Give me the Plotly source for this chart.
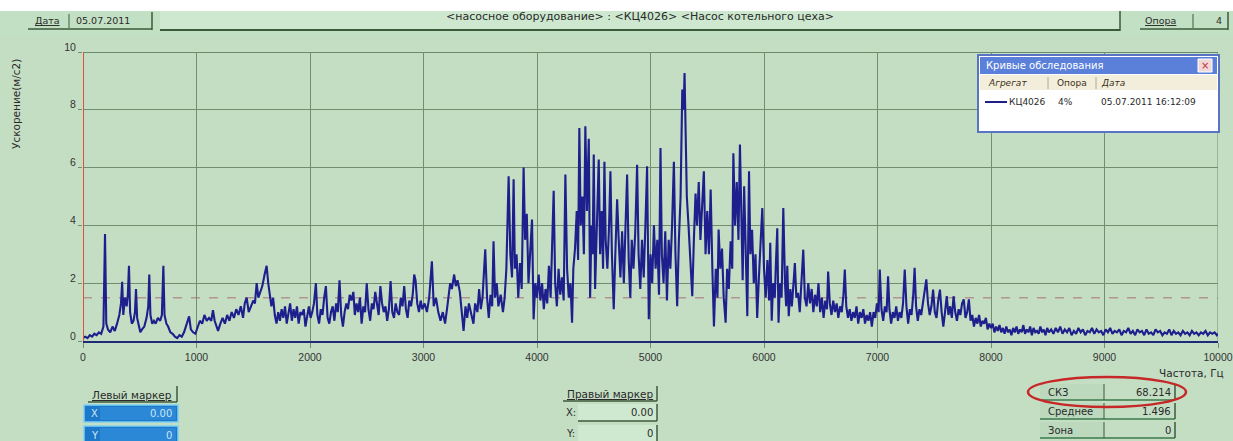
import plotly.graph_objects as go

# ---------------- data ----------------
freq_hz = [
    0, 20, 40, 60, 80, 100, 120, 140, 160, 180,
    194, 205, 220, 240, 260, 280, 300, 320, 335, 345,
    355, 370, 385, 395, 405, 415, 430, 445, 458, 467,
    477, 490, 505, 520, 540, 560, 575, 584, 594, 610,
    625, 640, 660, 680, 695, 708, 718, 735, 750, 770,
    790, 810, 830, 850, 870, 890, 915, 935, 950, 970,
    990, 1010, 1030, 1050, 1070, 1090, 1110, 1130, 1145, 1160,
    1175, 1190, 1210, 1230, 1250, 1270, 1290, 1310, 1330, 1350,
    1370, 1390, 1410, 1425, 1442, 1460, 1480, 1500, 1515, 1530,
    1545, 1560, 1580, 1600, 1618, 1632, 1645, 1660, 1675, 1690,
    1705, 1720, 1735, 1750, 1765, 1780, 1795, 1810, 1825, 1840,
    1855, 1870, 1885, 1900, 1915, 1930, 1945, 1960, 1975, 1990,
    2005, 2020, 2035, 2052, 2065, 2080, 2095, 2110, 2125, 2140,
    2155, 2170, 2185, 2200, 2215, 2230, 2245, 2260, 2275, 2290,
    2305, 2320, 2335, 2350, 2365, 2382, 2395, 2410, 2425, 2440,
    2455, 2470, 2485, 2500, 2515, 2530, 2545, 2560, 2575, 2590,
    2605, 2620, 2635, 2650, 2665, 2680, 2695, 2710, 2725, 2740,
    2755, 2770, 2785, 2800, 2815, 2830, 2845, 2860, 2875, 2890,
    2905, 2918, 2930, 2945, 2960, 2975, 2990, 3010, 3030, 3050,
    3074, 3090, 3110, 3130, 3150, 3170, 3190, 3210, 3235, 3250,
    3270, 3285, 3300, 3320, 3335, 3353, 3370, 3385, 3400, 3420,
    3440, 3455, 3475, 3490, 3505, 3520, 3544, 3560, 3575, 3590,
    3605, 3617, 3630, 3645, 3660, 3680, 3700, 3715, 3730, 3750,
    3765, 3780, 3794, 3805, 3820, 3835, 3850, 3865, 3882, 3895,
    3910, 3925, 3940, 3956, 3970, 3985, 4000, 4015, 4030, 4045,
    4060, 4075, 4090, 4105, 4120, 4135, 4147, 4160, 4175, 4190,
    4205, 4220, 4235, 4250, 4265, 4280, 4295, 4309, 4320, 4335,
    4350, 4362, 4373, 4385, 4400, 4413, 4426, 4440, 4456, 4468,
    4480, 4490, 4500, 4512, 4525, 4544, 4556, 4570, 4582, 4594,
    4605, 4620, 4635, 4647, 4660, 4676, 4690, 4706, 4720, 4735,
    4750, 4765, 4780, 4794, 4808, 4822, 4835, 4850, 4866, 4882,
    4895, 4910, 4925, 4940, 4955, 4970, 4985, 5000, 5015, 5030,
    5045, 5060, 5075, 5088, 5100, 5115, 5130, 5145, 5160, 5175,
    5190, 5206, 5220, 5235, 5250, 5265, 5280, 5292, 5300, 5310,
    5320, 5335, 5350, 5368, 5382, 5397, 5410, 5425, 5440, 5455,
    5470, 5485, 5500, 5515, 5530, 5545, 5559, 5575, 5590, 5600,
    5615, 5630, 5645, 5662, 5675, 5690, 5706, 5720, 5730, 5745,
    5760, 5775, 5788, 5800, 5812, 5825, 5840, 5853, 5868, 5880,
    5895, 5910, 5925, 5940, 5955, 5970, 5985, 6000, 6015, 6030,
    6045, 6055, 6068, 6080, 6095, 6105, 6117, 6128, 6140, 6155,
    6170, 6185, 6195, 6205, 6218, 6232, 6245, 6260, 6272, 6285,
    6300, 6315, 6330, 6346, 6360, 6375, 6390, 6405, 6420, 6435,
    6450, 6465, 6480, 6495, 6510, 6525, 6540, 6555, 6565, 6580,
    6595, 6610, 6625, 6640, 6655, 6670, 6685, 6700, 6712, 6725,
    6740, 6755, 6770, 6785, 6800, 6815, 6830, 6845, 6860, 6875,
    6890, 6905, 6920, 6935, 6950, 6965, 6980, 6995, 7010, 7020,
    7035, 7050, 7065, 7080, 7093, 7105, 7120, 7135, 7150, 7165,
    7180, 7195, 7210, 7225, 7240, 7255, 7270, 7285, 7300, 7315,
    7327, 7340, 7355, 7370, 7385, 7400, 7415, 7430, 7445, 7460,
    7475, 7490, 7505, 7520, 7535, 7550, 7565, 7580, 7595, 7610,
    7625, 7640, 7655, 7670, 7685, 7700, 7715, 7730, 7745, 7760,
    7775, 7790, 7805, 7820, 7835, 7850, 7865, 7880, 7895, 7910,
    7925, 7940, 7955, 7970, 7985, 8000, 8015, 8030, 8045, 8060,
    8075, 8090, 8105, 8120, 8135, 8150, 8165, 8180, 8195, 8210,
    8225, 8240, 8255, 8270, 8285, 8300, 8315, 8330, 8345, 8360,
    8375, 8390, 8405, 8420, 8435, 8450, 8465, 8480, 8495, 8510,
    8530, 8550, 8570, 8590, 8610, 8630, 8650, 8670, 8690, 8710,
    8730, 8750, 8770, 8790, 8810, 8830, 8850, 8870, 8890, 8910,
    8930, 8950, 8970, 8990, 9010, 9030, 9050, 9070, 9090, 9110,
    9130, 9150, 9170, 9190, 9210, 9230, 9250, 9270, 9290, 9310,
    9330, 9350, 9370, 9390, 9410, 9430, 9450, 9470, 9490, 9510,
    9530, 9550, 9570, 9590, 9610, 9630, 9650, 9670, 9690, 9710,
    9730, 9750, 9770, 9790, 9810, 9830, 9850, 9870, 9890, 9910,
    9930, 9950, 9970, 9990, 10000,
]

accel = [
    0.1, 0.15, 0.1, 0.2, 0.15, 0.25, 0.2, 0.3, 0.25, 0.5,
    3.7, 0.6, 0.4, 0.3, 0.5, 0.35, 0.6, 0.9, 1.3, 2.05,
    0.9, 1.5, 1.2, 1.6, 2.6, 1.0, 0.6, 0.7, 1.0, 1.8,
    0.8, 0.5, 0.3, 0.4, 0.5, 0.8, 1.2, 2.3, 0.9, 0.6,
    0.7, 0.6, 0.8, 0.7, 0.9, 2.6, 0.9, 0.6, 0.5, 0.3,
    0.25, 0.15, 0.1, 0.2, 0.15, 0.3, 0.6, 0.85, 0.4, 0.3,
    0.25, 0.5, 0.7, 0.6, 0.9, 0.7, 0.8, 0.7, 1.07, 0.7,
    0.5, 0.35, 0.6, 0.8, 0.6, 0.9, 0.7, 1.0, 0.8, 1.1,
    0.9, 1.2, 0.8, 1.3, 1.5, 1.0, 1.2, 1.4, 1.3, 2.0,
    1.5, 1.7, 1.9, 2.3, 2.6, 2.0, 1.6, 1.2, 1.5, 0.9,
    0.6, 1.0, 0.7, 1.1, 0.8, 1.2, 0.6, 1.0, 1.3, 0.7,
    1.1, 0.8, 1.2, 0.6, 1.0, 0.9, 1.1, 0.5, 0.9, 1.2,
    0.8, 1.0, 1.3, 2.0, 0.9, 0.6, 1.1, 0.9, 1.5, 1.9,
    0.8, 0.6, 1.0, 1.2, 0.7, 1.3, 1.0, 2.1, 0.9, 0.5,
    1.0, 1.3, 1.1, 1.6, 1.4, 1.7, 0.9, 1.3, 1.0, 1.5,
    0.6, 1.2, 1.0, 2.0, 1.1, 0.7, 1.3, 1.1, 1.7, 1.2,
    0.9, 1.9, 1.3, 1.0, 1.2, 0.7, 1.1, 2.07, 1.0, 0.8,
    1.3, 1.0, 0.9, 1.5, 1.2, 1.9, 1.1, 0.8, 1.4, 1.2,
    1.6, 2.3, 2.1, 1.3, 1.0, 1.4, 1.1, 1.3, 1.0, 1.5,
    2.76, 1.2, 1.5, 1.0, 0.7, 1.0, 0.6, 1.2, 2.0, 1.8,
    2.3, 1.9, 2.1, 1.7, 1.0, 0.35, 1.2, 0.8, 1.3, 1.0,
    0.6, 1.3, 1.0, 1.8, 1.1, 1.5, 3.17, 1.5, 0.8, 1.6,
    1.2, 3.45, 1.5, 2.0, 1.2, 1.6, 1.0, 1.5, 2.5, 5.7,
    3.0, 2.2, 5.6, 2.5, 3.0, 1.5, 2.7, 1.8, 6.0, 3.5,
    4.4, 2.0, 3.3, 4.2, 0.75, 2.0, 1.5, 2.3, 1.4, 2.0,
    1.1, 1.8, 1.3, 2.6, 1.5, 3.5, 5.2, 2.0, 1.2, 2.5,
    1.6, 2.2, 1.4, 5.76, 2.5, 1.5, 2.0, 0.63, 2.5, 3.2,
    4.5, 2.8, 7.37, 4.0, 5.0, 3.0, 7.43, 4.5, 7.0, 1.5,
    4.0, 3.0, 6.45, 1.8, 4.0, 6.28, 3.0, 4.5, 2.5, 6.2,
    3.5, 2.5, 4.0, 5.87, 3.0, 1.1, 3.0, 4.9, 3.5, 2.2,
    3.8, 2.0, 4.0, 5.76, 2.8, 1.5, 3.5, 2.5, 3.8, 6.1,
    3.0, 1.8, 3.5, 2.2, 4.0, 6.05, 0.75, 3.0, 2.0, 4.0,
    2.5, 3.5, 1.6, 6.68, 3.0, 2.0, 3.8, 1.4, 3.5, 2.5,
    4.0, 6.2, 3.0, 1.2, 3.5, 5.0, 8.7, 8.0, 9.27, 7.1,
    5.0, 4.0, 3.0, 1.55, 3.5, 5.1, 4.0, 5.5, 3.5, 4.5,
    5.87, 3.0, 4.5, 3.0, 5.24, 2.5, 0.5, 2.5, 1.5, 3.86,
    2.5, 3.2, 1.5, 0.63, 2.5, 1.8, 3.45, 2.5, 6.5, 4.0,
    5.5, 3.5, 6.8, 4.5, 2.1, 5.35, 2.5, 0.86, 5.87, 3.0,
    3.85, 2.0, 3.0, 0.8, 2.2, 3.2, 4.6, 2.5, 1.5, 2.8,
    1.4, 3.4, 0.7, 2.0, 1.5, 2.7, 3.9, 0.63, 2.0, 1.5,
    4.6, 2.0, 1.2, 2.6, 0.86, 1.8, 1.2, 2.0, 2.7, 1.5,
    1.67, 1.0, 2.0, 3.16, 1.5, 1.2, 2.0, 1.3, 1.8, 1.0,
    1.6, 1.2, 2.0, 1.0, 1.5, 0.8, 1.4, 1.1, 2.4, 1.3,
    0.9, 1.4, 1.0, 1.3, 0.8, 1.2, 1.0, 1.6, 2.47, 1.2,
    0.8, 1.1, 0.7, 1.0, 0.8, 1.2, 0.6, 1.0, 0.8, 1.1,
    0.6, 0.9, 0.7, 1.0, 0.5, 1.0, 0.8, 1.3, 1.0, 2.47,
    1.1, 0.7, 1.2, 1.0, 2.24, 1.1, 0.6, 1.0, 0.8, 1.2,
    0.7, 1.0, 0.8, 1.3, 2.47, 1.2, 0.6, 1.1, 0.9, 1.6,
    2.53, 1.2, 0.7, 1.1, 0.9, 1.3, 1.6, 2.13, 1.3, 0.9,
    1.2, 1.78, 1.0, 0.8, 1.4, 1.78, 1.0, 0.5, 1.0, 1.55,
    0.9, 1.2, 0.8, 1.55, 1.0, 0.7, 1.1, 0.9, 1.3, 1.44,
    0.8, 1.0, 1.44, 0.7, 0.9, 0.5, 0.8, 0.6, 0.9, 0.5,
    0.7, 0.6, 0.8, 0.4, 0.6, 0.45, 0.6, 0.3, 0.5, 0.35,
    0.55, 0.3, 0.45, 0.25, 0.5, 0.3, 0.4, 0.2, 0.45, 0.3,
    0.5, 0.25, 0.4, 0.3, 0.55, 0.25, 0.4, 0.3, 0.5, 0.2,
    0.45, 0.3, 0.35, 0.25, 0.5, 0.3, 0.4, 0.2, 0.45, 0.3,
    0.4, 0.25, 0.45, 0.3, 0.5, 0.25, 0.4, 0.3, 0.45, 0.2,
    0.35, 0.25, 0.45, 0.3, 0.4, 0.2, 0.35, 0.3, 0.45, 0.25,
    0.4, 0.3, 0.35, 0.2, 0.4, 0.3, 0.45, 0.25, 0.35, 0.3,
    0.4, 0.2, 0.35, 0.3, 0.45, 0.25, 0.35, 0.2, 0.4, 0.3,
    0.35, 0.2, 0.4, 0.25, 0.3, 0.2, 0.4, 0.3, 0.35, 0.2,
    0.3, 0.25, 0.4, 0.2, 0.35, 0.25, 0.3, 0.2, 0.35, 0.25,
    0.3, 0.2, 0.35, 0.25, 0.3, 0.2, 0.3, 0.25, 0.35, 0.2,
    0.3, 0.25, 0.3, 0.2, 0.25,
]

x_tick_vals = [0, 1000, 2000, 3000, 4000, 5000, 6000, 7000, 8000, 9000, 10000]
y_tick_vals = [0, 2, 4, 6, 8, 10]
mean_level = 1.496
left_marker_hz = 0

date_text = "05.07.2011"
title_text = "&lt;насосное оборудование&gt; : &lt;КЦ4026&gt; &lt;Насос котельного цеха&gt;"
support_text = "4"
y_title = "Ускорение(м/с2)"
x_title = "Частота, Гц"
legend_title = "Кривые обследования"
legend_headers = ["Агрегат", "Опора", "Дата"]
legend_row = ["КЦ4026", "4%", "05.07.2011 16:12:09"]
stats_labels = ["СКЗ", "Среднее", "Зона"]
stats_values = ["68.214", "1.496", "0"]

# ---------------- layout helpers (pixel -> paper) ----------------
W, H = 1233, 441
PL, PT, PR, PB = 83, 52, 1218, 341
PW, PH = PR - PL, PB - PT


def fx(x):
    return (x - PL) / PW


def fy(y):
    return (PB - y) / PH


BG = "#c4dec4"
FONT = "DejaVu Sans"
shapes = []
annotations = []


def rect(x0, y0, x1, y1, fill, line=None, lw=0):
    shapes.append(dict(type="rect", xref="paper", yref="paper",
                       x0=fx(x0), x1=fx(x1), y0=fy(y1), y1=fy(y0),
                       fillcolor=fill, line=dict(color=line or fill, width=lw),
                       layer="above"))


def seg(x0, y0, x1, y1, color, lw=1):
    shapes.append(dict(type="line", xref="paper", yref="paper",
                       x0=fx(x0), x1=fx(x1), y0=fy(y0), y1=fy(y1),
                       line=dict(color=color, width=lw), layer="above"))


def text(x, y, s, size=10, color="#2a2a2a", anchor="left", angle=0):
    annotations.append(dict(xref="paper", yref="paper", x=fx(x), y=fy(y), text=s,
                            showarrow=False, xanchor=anchor, yanchor="middle",
                            textangle=angle, font=dict(family=FONT, size=size, color=color)))


# top strip / bar
rect(0, 0, W, 11, "#ffffff")
rect(0, 11, W, 36, "#c2e0c4")
# date button
seg(28, 29, 152, 29, "#3c5a3c", 1.5)
seg(152, 12, 152, 30, "#3c5a3c", 1.5)
seg(69, 14, 69, 28, "#3c5a3c", 1)
text(33, 21, "<u>Дата</u>", 9.5)
text(74, 21, date_text, 9.5)
# title field
rect(160, 11, 1120, 29, "#cde8cf")
seg(160, 30, 1120, 30, "#3c5a3c", 2)
seg(1120, 11, 1120, 31, "#3c5a3c", 1.5)
text(640, 17, title_text, 11, anchor="center")
# support button
seg(1140, 29, 1228, 29, "#3c5a3c", 1.5)
seg(1193, 14, 1193, 28, "#3c5a3c", 1)
seg(1228, 12, 1228, 30, "#3c5a3c", 1.5)
text(1143, 21, "<u>Опора</u>", 9.5)
text(1214, 21, support_text, 9.5)

# y-axis title
text(16, 104, y_title, 10.5, angle=-90, anchor="center")

# legend window
rect(978, 55, 1219, 132, "#ffffff", "#5a74c4", 2)
rect(980, 57, 1217, 74, "#5a80da")
text(984, 65.5, legend_title, 10, color="#ffffff")
rect(1198, 59, 1212, 72, "#f0d8d8", "#ffffff", 1)
text(1205, 65.5, "×", 10, color="#c03030", anchor="center")
rect(980, 75, 1217, 90, "#f3eedb")
seg(1048, 77, 1048, 89, "#b0a890", 1)
seg(1096, 77, 1096, 89, "#b0a890", 1)
text(986, 83, "<i>" + legend_headers[0] + "</i>", 9, color="#3a3020")
text(1055, 83, legend_headers[1], 9, color="#3a3020")
text(1099, 83, "<i>" + legend_headers[2] + "</i>", 9, color="#3a3020")
seg(985, 102, 1007, 102, "#1e1e8c", 2)
text(1007, 102, legend_row[0], 9)
text(1056, 102, legend_row[1], 9)
text(1099, 102, legend_row[2], 9)

# x title
text(1226, 373, x_title, 10.5, anchor="right")

# left marker panel
text(132, 395, "<u>Левый маркер</u>", 10.5, anchor="center")
seg(88, 402, 177, 402, "#3c5a3c", 1.5)
seg(177, 386, 177, 402, "#3c5a3c", 1.5)
rect(84, 405, 178, 422, "#1c78c8", "#7ed0f4", 1.5)
rect(100, 407, 176, 420, "#2a88d6")
text(174, 413.5, "0.00", 10, color="#cfe6f6", anchor="right")
text(89, 413.5, "X", 10, color="#cfe6f6")
rect(84, 426, 178, 443, "#1c78c8", "#7ed0f4", 1.5)
rect(100, 428, 176, 442, "#2a88d6")
text(174, 435, "0", 10, color="#cfe6f6", anchor="right")
text(89, 435, "Y", 10, color="#cfe6f6")

# right marker panel
text(610, 394, "<u>Правый маркер</u>", 10.5, anchor="center")
seg(563, 401, 657, 401, "#3c5a3c", 1.5)
seg(657, 386, 657, 401, "#3c5a3c", 1.5)
text(564, 412, "X:", 10)
rect(578, 404, 657, 421, "#cfe9d0")
seg(578, 421, 657, 421, "#3c5a3c", 1.5)
seg(657, 404, 657, 421, "#3c5a3c", 1.5)
text(655, 412, "0.00", 10, anchor="right")
text(564, 433, "Y:", 10)
rect(578, 425, 657, 442, "#cfe9d0")
seg(657, 425, 657, 442, "#3c5a3c", 1.5)
text(655, 433, "0", 10, anchor="right")

# stats panel
for i, (lab, val) in enumerate(zip(stats_labels, stats_values)):
    yc = 392 + i * 19
    rect(1040, yc - 8, 1104, yc + 8, "#bcd9bd")
    seg(1040, yc + 8, 1175, yc + 8, "#3c7a4c", 1.5)
    seg(1104, yc - 8, 1104, yc + 8, "#3c5a3c", 1)
    seg(1175, yc - 8, 1175, yc + 8, "#3c5a3c", 1.5)
    text(1046, yc, lab, 10)
    text(1173, yc, val, 10, anchor="right")
shapes.append(dict(type="circle", xref="paper", yref="paper",
                   x0=fx(1028), x1=fx(1186), y0=fy(407), y1=fy(377),
                   line=dict(color="#c62828", width=2.5), layer="above"))

# in-plot shapes
shapes.append(dict(type="line", xref="x", yref="y", x0=0, x1=10000,
                   y0=mean_level, y1=mean_level,
                   line=dict(color="#b39494", width=1.5, dash="dash"), layer="below"))
shapes.append(dict(type="line", xref="x", yref="y", x0=left_marker_hz, x1=left_marker_hz,
                   y0=0, y1=10, line=dict(color="#e0503a", width=2), layer="above"))
shapes.append(dict(type="line", xref="x", yref="y", x0=10000, x1=10000, y0=0, y1=10,
                   line=dict(color="#6f8f6f", width=1), layer="below"))
shapes.append(dict(type="line", xref="x", yref="y", x0=0, x1=10000, y0=10, y1=10,
                   line=dict(color="#4f6f4f", width=1.5), layer="below"))

fig = go.Figure()
fig.add_trace(go.Scatter(x=freq_hz, y=accel, mode="lines",
                         line=dict(color="#1e1e8c", width=2.1), showlegend=False,
                         hoverinfo="skip"))

axis_font = dict(family="Liberation Sans", size=10.5, color="#333333")
fig.update_layout(
    width=W, height=H, autosize=False,
    margin=dict(l=PL, r=W - PR, t=PT, b=H - PB, pad=0, autoexpand=False),
    paper_bgcolor=BG, plot_bgcolor=BG,
    shapes=shapes, annotations=annotations, showlegend=False,
    xaxis=dict(range=[0, 10000], tickvals=x_tick_vals, ticktext=[str(v) for v in x_tick_vals],
               showgrid=True, gridcolor="#6f8f6f", gridwidth=1, automargin=False,
               showline=True, linecolor="#1c2a78", linewidth=2, mirror=False,
               ticks="outside", ticklen=5, tickcolor="#6f8f6f", tickfont=axis_font,
               zeroline=False, fixedrange=True),
    yaxis=dict(range=[0, 10], tickvals=y_tick_vals, ticktext=[str(v) for v in y_tick_vals],
               showgrid=True, gridcolor="#6f8f6f", gridwidth=1, automargin=False,
               showline=False, ticks="outside", ticklen=4, tickcolor="#6f8f6f",
               ticklabelshift=-5, tickfont=axis_font, zeroline=False, fixedrange=True),
)

fig.write_html(
    "out.html",
    config={"displayModeBar": False, "responsive": False},
    post_script="document.body.style.margin='0';document.body.style.overflow='hidden';"
                "document.documentElement.style.overflow='hidden';",
)
